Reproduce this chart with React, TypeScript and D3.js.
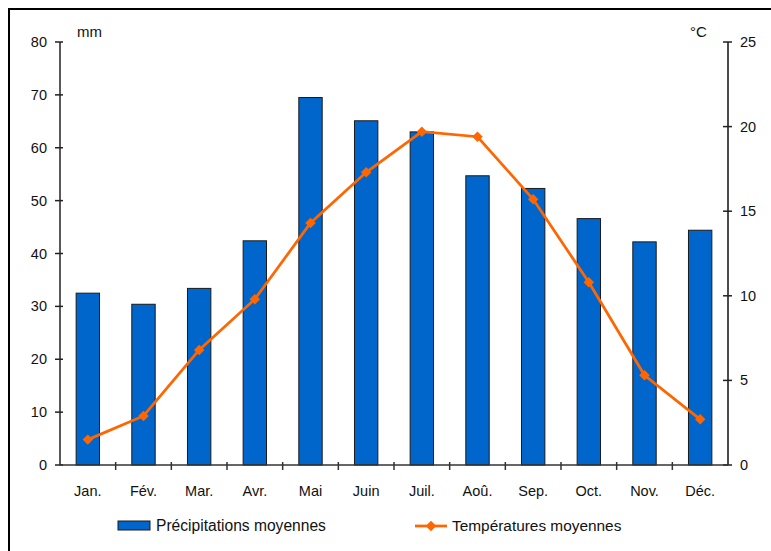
import React, { useRef, useEffect } from 'react';
import * as d3 from 'd3';

// valeurs
const months = ['Jan.', 'Fév.', 'Mar.', 'Avr.', 'Mai', 'Juin', 'Juil.', 'Aoû.', 'Sep.', 'Oct.', 'Nov.', 'Déc.'];
const precipitations = [32.5, 30.4, 33.4, 42.4, 69.5, 65.1, 63.0, 54.7, 52.3, 46.6, 42.2, 44.4];
const temperatures = [1.5, 2.9, 6.8, 9.8, 14.3, 17.3, 19.7, 19.4, 15.7, 10.8, 5.3, 2.7];
const mmTicks = [0, 10, 20, 30, 40, 50, 60, 70, 80];
const tempTicks = [0, 5, 10, 15, 20, 25];

const FONT = '"Liberation Sans", Arial, sans-serif';
const BLUE = '#0066cc';
const ORANGE = '#ff6600';

const ClimateChart = () => {
    const ref = useRef<SVGSVGElement>(null);

    useEffect(() => {
        const svg = d3.select(ref.current);
        svg.selectAll('*').remove();
        const width = 771;
        const height = 551;
        const left = 60, right = 728, top = 42, bottom = 465;

        svg.attr('width', width).attr('height', height);

        // cadre
        svg.append('rect')
            .attr('x', 9).attr('y', 9)
            .attr('width', 800).attr('height', 600)
            .attr('fill', 'none').attr('stroke', '#000').attr('stroke-width', 2);

        const x = d3.scaleBand().domain(months).range([left, right]).padding(0);
        const yMm = d3.scaleLinear().domain([0, 80]).range([bottom, top]);
        const yTemp = d3.scaleLinear().domain([0, 25]).range([bottom, top]);
        const barW = x.bandwidth() * 0.42;

        // barres
        svg.append('g').selectAll('rect')
            .data(precipitations)
            .enter().append('rect')
            .attr('x', (d, i) => x(months[i])! + (x.bandwidth() - barW) / 2)
            .attr('y', d => yMm(d))
            .attr('width', barW)
            .attr('height', d => yMm(0) - yMm(d))
            .attr('fill', BLUE)
            .attr('stroke', '#1a1a1a')
            .attr('stroke-width', 1);

        // axe gauche
        const gl = svg.append('g');
        gl.append('line').attr('x1', left).attr('x2', left).attr('y1', top).attr('y2', bottom)
            .attr('stroke', '#222').attr('stroke-width', 1.5);
        gl.selectAll('line.t').data(mmTicks).enter().append('line')
            .attr('x1', left - 5).attr('x2', left + 3)
            .attr('y1', d => yMm(d)).attr('y2', d => yMm(d))
            .attr('stroke', '#222').attr('stroke-width', 1.5);
        gl.selectAll('text').data(mmTicks).enter().append('text')
            .attr('x', left - 13).attr('y', d => yMm(d)).attr('dy', '0.35em')
            .attr('text-anchor', 'end')
            .style('font', `14.5px ${FONT}`).attr('fill', '#111')
            .text(d => d);

        // axe droit
        const gr = svg.append('g');
        gr.append('line').attr('x1', right).attr('x2', right).attr('y1', top).attr('y2', bottom)
            .attr('stroke', '#111').attr('stroke-width', 1.5);
        gr.selectAll('line.t').data(tempTicks).enter().append('line')
            .attr('x1', right - 5).attr('x2', right + 4)
            .attr('y1', d => yTemp(d)).attr('y2', d => yTemp(d))
            .attr('stroke', '#222').attr('stroke-width', 1.5);
        gr.selectAll('text').data(tempTicks).enter().append('text')
            .attr('x', right + 12).attr('y', d => yTemp(d)).attr('dy', '0.35em')
            .attr('text-anchor', 'start')
            .style('font', `14.5px ${FONT}`).attr('fill', '#111')
            .text(d => d);

        // axe du bas
        const gb = svg.append('g');
        gb.append('line').attr('x1', left).attr('x2', right).attr('y1', bottom).attr('y2', bottom)
            .attr('stroke', '#333').attr('stroke-width', 1.5);
        gb.selectAll('line.t').data(months.slice(1)).enter().append('line')
            .attr('x1', d => x(d)!).attr('x2', d => x(d)!)
            .attr('y1', bottom - 3).attr('y2', bottom + 5)
            .attr('stroke', '#333').attr('stroke-width', 1.5);
        gb.selectAll('text').data(months).enter().append('text')
            .attr('x', d => x(d)! + x.bandwidth() / 2).attr('y', bottom + 31)
            .attr('text-anchor', 'middle')
            .style('font', `14.5px ${FONT}`).attr('fill', '#111')
            .text(d => d);

        // unités
        svg.append('text').attr('x', 77).attr('y', 37)
            .style('font', `15px ${FONT}`).attr('fill', '#111').text('mm');
        svg.append('text').attr('x', 690).attr('y', 37)
            .style('font', `15px ${FONT}`).attr('fill', '#111').text('°C');

        // courbe des températures
        const line = d3.line<number>()
            .x((d, i) => x(months[i])! + x.bandwidth() / 2)
            .y(d => yTemp(d));
        svg.append('path')
            .datum(temperatures)
            .attr('d', line)
            .attr('fill', 'none')
            .attr('stroke', ORANGE)
            .attr('stroke-width', 2.75);

        const diamond = d3.symbol().type(d3.symbolDiamond2).size(70);
        svg.append('g').selectAll('path')
            .data(temperatures)
            .enter().append('path')
            .attr('d', diamond)
            .attr('transform', (d, i) => `translate(${x(months[i])! + x.bandwidth() / 2}, ${yTemp(d)})`)
            .attr('fill', ORANGE);

        // légende
        const lg = svg.append('g');
        lg.append('rect').attr('x', 118).attr('y', 521).attr('width', 32).attr('height', 9)
            .attr('fill', BLUE).attr('stroke', '#1a1a1a').attr('stroke-width', 1);
        lg.append('text').attr('x', 156).attr('y', 531)
            .style('font', `15.6px ${FONT}`).attr('fill', '#111').text('Précipitations moyennes');
        lg.append('line').attr('x1', 415).attr('x2', 447).attr('y1', 526).attr('y2', 526)
            .attr('stroke', ORANGE).attr('stroke-width', 2.75);
        lg.append('path').attr('d', diamond).attr('transform', 'translate(431, 526)').attr('fill', ORANGE);
        lg.append('text').attr('x', 452).attr('y', 531)
            .style('font', `15.4px ${FONT}`).attr('fill', '#111').text('Températures moyennes');
    }, []);

    return <svg ref={ref} style={{ position: 'absolute', left: 0, top: 0, display: 'block' }}></svg>;
};

export default function App() {
    return (
        <div>
            <ClimateChart />
        </div>
    );
}
